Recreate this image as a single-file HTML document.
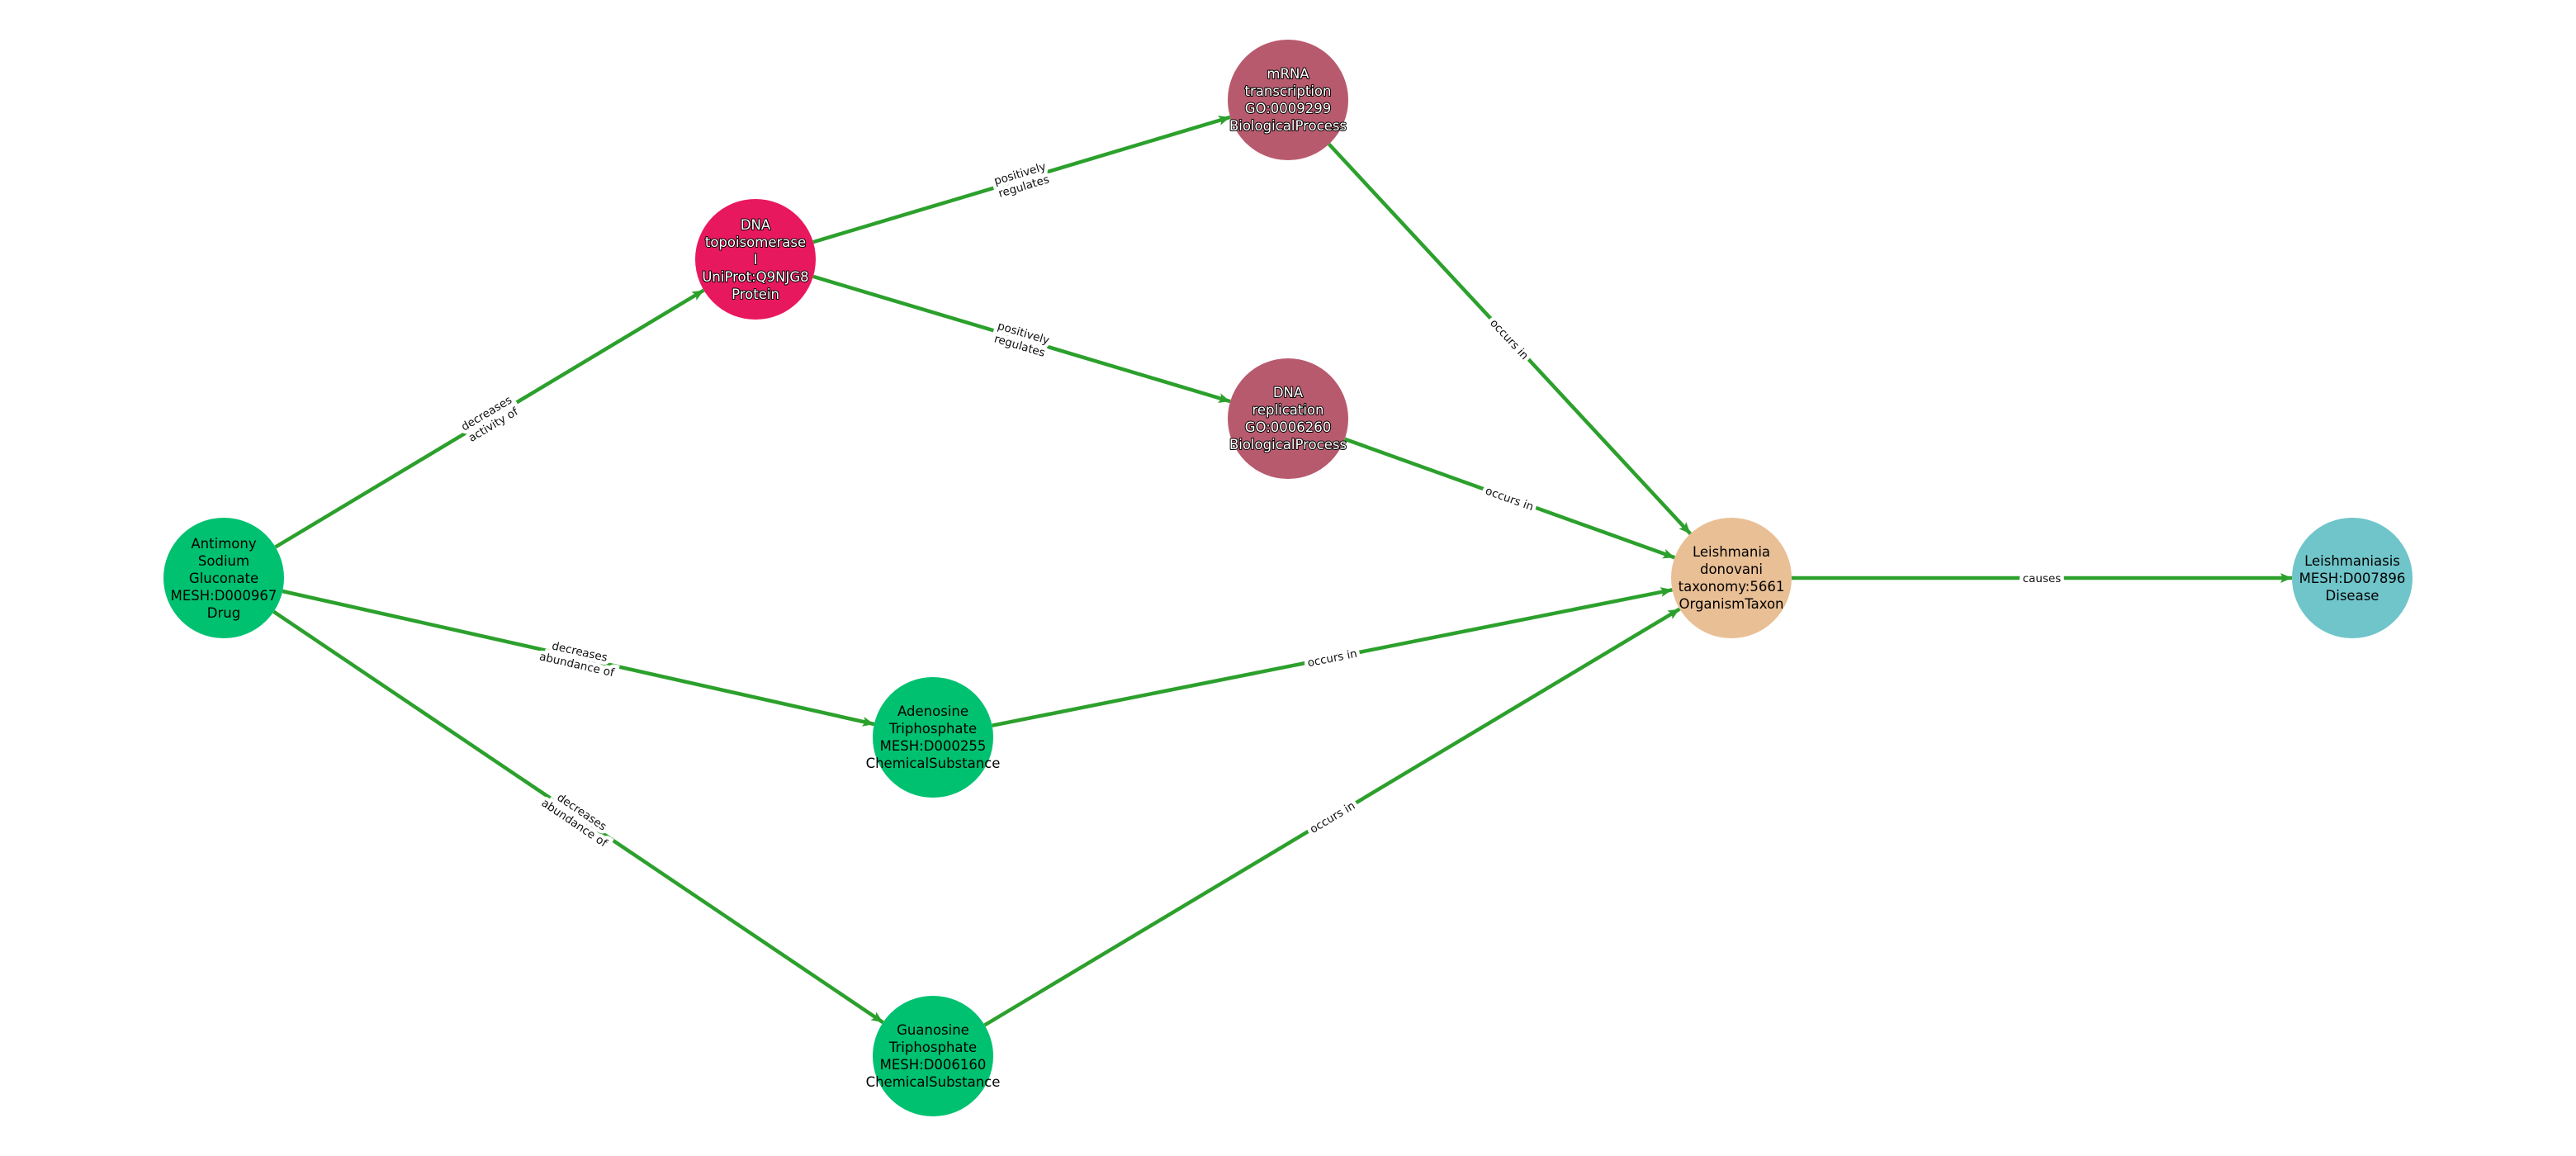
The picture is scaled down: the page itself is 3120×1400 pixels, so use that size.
<!DOCTYPE html>
<html><head><meta charset="utf-8"><style>
html,body{margin:0;padding:0;background:#fff;}
svg{display:block;}
.n{font-family:"DejaVu Sans","Liberation Sans",sans-serif;font-size:16.5px;text-anchor:middle;fill:#000;}
.w{fill:#fff;stroke:#000;stroke-width:2px;paint-order:stroke;stroke-linejoin:round;}
.e{font-family:"DejaVu Sans","Liberation Sans",sans-serif;font-size:13.5px;text-anchor:middle;fill:#111;stroke:#fff;stroke-width:9px;paint-order:stroke;stroke-linejoin:miter;}
line{stroke:#2ca02c;stroke-width:4.5;}
</style></head><body>
<svg width="3120" height="1400" viewBox="0 0 3120 1400" xmlns="http://www.w3.org/2000/svg">
<defs><marker id="a" markerUnits="userSpaceOnUse" markerWidth="16" markerHeight="14" refX="14" refY="6" orient="auto"><path d="M0,0 L14,6 L0,12 L3,6 Z" fill="#2ca02c"/></marker></defs>
<line x1="333.6" y1="662.5" x2="852.4" y2="351.5" marker-end="url(#a)"/>
<line x1="985" y1="293.1" x2="1490" y2="141.9" marker-end="url(#a)"/>
<line x1="985" y1="334.9" x2="1490" y2="486.1" marker-end="url(#a)"/>
<line x1="1609.6" y1="174.5" x2="2047.4" y2="646.5" marker-end="url(#a)"/>
<line x1="1628.7" y1="531.7" x2="2028.3" y2="675.3" marker-end="url(#a)"/>
<line x1="342.2" y1="716" x2="1058.8" y2="877" marker-end="url(#a)"/>
<line x1="331.5" y1="740.8" x2="1069.5" y2="1238.2" marker-end="url(#a)"/>
<line x1="1201.6" y1="878.7" x2="2025.4" y2="714.3" marker-end="url(#a)"/>
<line x1="1192.6" y1="1241.5" x2="2034.4" y2="737.5" marker-end="url(#a)"/>
<line x1="2170" y1="700" x2="2776" y2="700" marker-end="url(#a)"/>

<g class="e">
<text transform="translate(593,507) rotate(-30.9)"><tspan x="0" y="-3">decreases</tspan><tspan x="0" y="13">activity of</tspan></text>
<text transform="translate(1237.5,217.5) rotate(-16.7)"><tspan x="0" y="-3">positively</tspan><tspan x="0" y="13">regulates</tspan></text>
<text transform="translate(1237.5,410.5) rotate(16.7)"><tspan x="0" y="-3">positively</tspan><tspan x="0" y="13">regulates</tspan></text>
<text transform="translate(1828.5,410.5) rotate(47.2)"><tspan x="0" y="5">occurs in</tspan></text>
<text transform="translate(1828.5,603.5) rotate(19.8)"><tspan x="0" y="5">occurs in</tspan></text>
<text transform="translate(700.5,796.5) rotate(12.66)"><tspan x="0" y="-3">decreases</tspan><tspan x="0" y="13">abundance of</tspan></text>
<text transform="translate(700.5,989.5) rotate(34)"><tspan x="0" y="-3">decreases</tspan><tspan x="0" y="13">abundance of</tspan></text>
<text transform="translate(1613.5,796.5) rotate(-11.3)"><tspan x="0" y="5">occurs in</tspan></text>
<text transform="translate(1613.5,989.5) rotate(-30.9)"><tspan x="0" y="5">occurs in</tspan></text>
<text transform="translate(2473,700)"><tspan x="0" y="5">causes</tspan></text>
</g>

<circle cx="271" cy="700" r="73" fill="#00c170"/>
<circle cx="915" cy="314" r="73" fill="#e8185f"/>
<circle cx="1560" cy="121" r="73" fill="#b85a6e"/>
<circle cx="1560" cy="507" r="73" fill="#b85a6e"/>
<circle cx="2097" cy="700" r="73" fill="#e9bf95"/>
<circle cx="2849" cy="700" r="73" fill="#6fc5ca"/>
<circle cx="1130" cy="893" r="73" fill="#00c170"/>
<circle cx="1130" cy="1279" r="73" fill="#00c170"/>

<g class="n">
<text x="271" y="664"><tspan x="271" dy="0">Antimony</tspan><tspan x="271" dy="21">Sodium</tspan><tspan x="271" dy="21">Gluconate</tspan><tspan x="271" dy="21">MESH:D000967</tspan><tspan x="271" dy="21">Drug</tspan></text>
<text class="w" x="915" y="278"><tspan x="915" dy="0">DNA</tspan><tspan x="915" dy="21">topoisomerase</tspan><tspan x="915" dy="21">I</tspan><tspan x="915" dy="21">UniProt:Q9NJG8</tspan><tspan x="915" dy="21">Protein</tspan></text>
<text class="w" x="1560" y="95"><tspan x="1560" dy="0">mRNA</tspan><tspan x="1560" dy="21">transcription</tspan><tspan x="1560" dy="21">GO:0009299</tspan><tspan x="1560" dy="21">BiologicalProcess</tspan></text>
<text class="w" x="1560" y="481"><tspan x="1560" dy="0">DNA</tspan><tspan x="1560" dy="21">replication</tspan><tspan x="1560" dy="21">GO:0006260</tspan><tspan x="1560" dy="21">BiologicalProcess</tspan></text>
<text x="2097" y="674"><tspan x="2097" dy="0">Leishmania</tspan><tspan x="2097" dy="21">donovani</tspan><tspan x="2097" dy="21">taxonomy:5661</tspan><tspan x="2097" dy="21">OrganismTaxon</tspan></text>
<text x="2849" y="685"><tspan x="2849" dy="0">Leishmaniasis</tspan><tspan x="2849" dy="21">MESH:D007896</tspan><tspan x="2849" dy="21">Disease</tspan></text>
<text x="1130" y="867"><tspan x="1130" dy="0">Adenosine</tspan><tspan x="1130" dy="21">Triphosphate</tspan><tspan x="1130" dy="21">MESH:D000255</tspan><tspan x="1130" dy="21">ChemicalSubstance</tspan></text>
<text x="1130" y="1253"><tspan x="1130" dy="0">Guanosine</tspan><tspan x="1130" dy="21">Triphosphate</tspan><tspan x="1130" dy="21">MESH:D006160</tspan><tspan x="1130" dy="21">ChemicalSubstance</tspan></text>
</g>
</svg>
</body></html>
